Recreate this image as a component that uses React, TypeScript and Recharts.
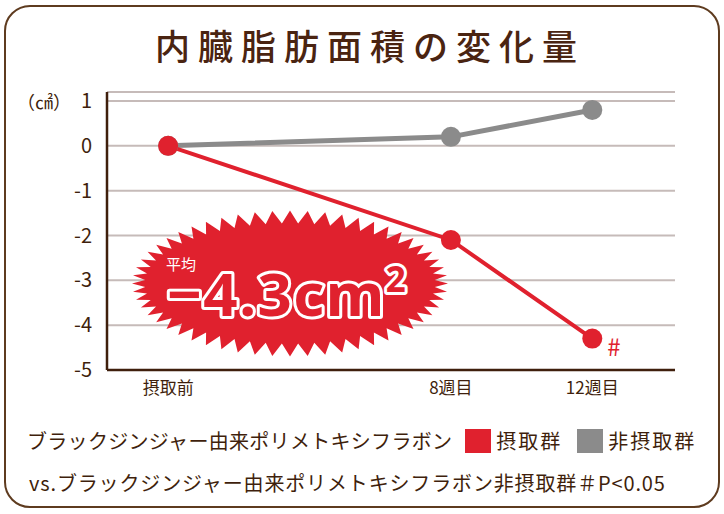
import { LineChart, Line, XAxis, YAxis, CartesianGrid } from 'recharts';

const weeks = [0, 8, 12];
const weekLabels = ['摂取前', '8週目', '12週目'];
const intake = [0, -2.1, -4.3];
const control = [0, 0.2, 0.8];
const yTicks = [1, 0, -1, -2, -3, -4, -5];

const RED = '#e0212e';
const GRAY = '#8b8b8b';
const BROWN = '#3f1f0c';
const FONT = '"Noto Sans CJK JP", "Noto Sans", sans-serif';

const data = weeks.map((w, i) => ({
  week: w,
  label: weekLabels[i],
  intake: intake[i],
  control: control[i],
}));

// jagged badge behind the average value
function burstPoints(cx: number, cy: number, rx: number, ry: number, depth: number, n: number) {
  const pts: string[] = [];
  for (let i = 0; i < n * 2; i++) {
    const a = (i * Math.PI) / n;
    const out = i % 2 === 0;
    const x = cx + (out ? rx : rx - depth) * Math.cos(a);
    const y = cy + (out ? ry : ry - depth) * Math.sin(a);
    pts.push(`${x.toFixed(1)},${y.toFixed(1)}`);
  }
  return pts.join(' ');
}

export default function App() {
  return (
    <div
      style={{
        position: 'absolute',
        left: 0,
        top: 0,
        width: 724,
        height: 514,
        background: '#fff',
        fontFamily: FONT,
        overflow: 'hidden',
      }}
    >
      <div
        style={{
          position: 'absolute',
          left: 4,
          top: 5,
          width: 712,
          height: 499,
          border: '2px solid #5e3b1f',
          borderRadius: 26,
        }}
      />
      <div
        style={{
          position: 'absolute',
          left: 0,
          top: 21,
          width: 724,
          textAlign: 'center',
          fontSize: 35,
          fontWeight: 500,
          color: '#4a2411',
          letterSpacing: 8,
          paddingLeft: 8,
          lineHeight: '48px',
        }}
      >
        内臓脂肪面積の変化量
      </div>
      <div
        style={{
          position: 'absolute',
          left: 17,
          top: 88,
          fontSize: 18,
          color: BROWN,
          lineHeight: '26px',
        }}
      >
        （㎠）
      </div>

      <div style={{ position: 'absolute', left: 0, top: 0 }}>
        <LineChart
          width={724}
          height={514}
          data={data}
          margin={{ top: 92, right: 49, bottom: 114, left: 47 }}
        >
          <CartesianGrid horizontal vertical={false} stroke="#c6bbb9" strokeWidth={2} />
          <XAxis
            type="number"
            dataKey="week"
            domain={[-1.73, 14.34]}
            ticks={weeks}
            tickFormatter={(v: number) => weekLabels[weeks.indexOf(v)]}
            height={30}
            tickLine={false}
            tickSize={0}
            tickMargin={12}
            axisLine={{ stroke: BROWN, strokeWidth: 2.5 }}
            tick={{ fill: BROWN, fontSize: 17, fontFamily: FONT }}
            allowDataOverflow
          />
          <YAxis
            type="number"
            domain={[-5, 1.2]}
            ticks={yTicks}
            width={60}
            tickLine={false}
            tickSize={0}
            tickMargin={15}
            axisLine={{ stroke: BROWN, strokeWidth: 2.5 }}
            tick={{ fill: BROWN, fontSize: 20, fontFamily: FONT }}
            allowDataOverflow
          />
          <Line
            dataKey="control"
            stroke={GRAY}
            strokeWidth={5}
            dot={{ r: 10, fill: GRAY, stroke: 'none' }}
            isAnimationActive={false}
          />
          <Line
            dataKey="intake"
            stroke={RED}
            strokeWidth={4}
            dot={{ r: 10, fill: RED, stroke: 'none' }}
            isAnimationActive={false}
          />
        </LineChart>
      </div>

      <svg
        width={724}
        height={514}
        style={{ position: 'absolute', left: 0, top: 0, pointerEvents: 'none' }}
      >
        <polygon points={burstPoints(290, 283.5, 158, 73, 13, 56)} fill={RED} />
        <text x={181} y={270} fill="#fff" fontSize={15} fontFamily={FONT} textAnchor="middle">
          平均
        </text>
        <text
          x={167}
          y={316}
          fill={RED}
          stroke="#fff"
          strokeWidth={6}
          strokeLinejoin="round"
          paintOrder="stroke"
          fontSize={60}
          fontWeight={700}
          fontFamily='"Noto Sans", sans-serif'
          letterSpacing={1.5}
        >
          −4.3cm
          <tspan fontSize={35} dy={-24}>
            2
          </tspan>
        </text>
        <text x={614} y={356} fill={RED} fontSize={24} fontFamily={FONT} textAnchor="middle">
          #
        </text>
      </svg>

      <div
        style={{
          position: 'absolute',
          left: 27,
          top: 426,
          fontSize: 20,
          color: BROWN,
          lineHeight: '30px',
          display: 'flex',
          alignItems: 'center',
          whiteSpace: 'nowrap',
        }}
      >
        <span style={{ letterSpacing: 0.3 }}>ブラックジンジャー由来ポリメトキシフラボン</span>
        <span
          style={{ display: 'inline-block', width: 26, height: 24, background: RED, marginLeft: 13, marginRight: 5 }}
        />
        <span style={{ letterSpacing: 2 }}>摂取群</span>
        <span
          style={{ display: 'inline-block', width: 26, height: 24, background: GRAY, marginLeft: 15, marginRight: 5 }}
        />
        <span style={{ letterSpacing: 2 }}>非摂取群</span>
      </div>
      <div
        style={{
          position: 'absolute',
          left: 29,
          top: 468,
          fontSize: 20,
          color: BROWN,
          lineHeight: '30px',
          whiteSpace: 'nowrap',
          letterSpacing: 0.85,
        }}
      >
        vs.ブラックジンジャー由来ポリメトキシフラボン非摂取群＃P&lt;0.05
      </div>
    </div>
  );
}
